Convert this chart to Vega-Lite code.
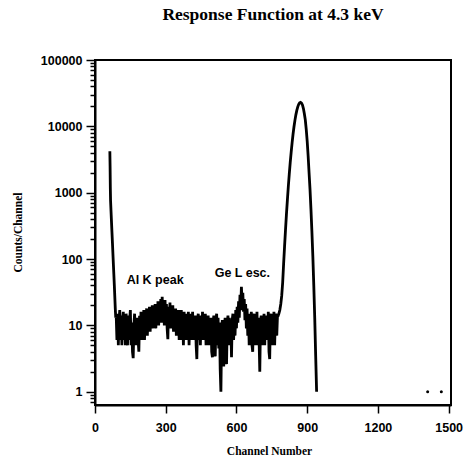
{
  "$schema": "https://vega.github.io/schema/vega-lite/v6.json",
  "width": 356,
  "height": 345,
  "autosize": {"type": "none"},
  "padding": {"left": 95, "top": 60, "right": 15, "bottom": 53},
  "background": "white",
  "title": {
    "text": "Response Function at 4.3 keV",
    "font": "Liberation Serif",
    "fontSize": 17.5,
    "fontWeight": "bold",
    "color": "black",
    "anchor": "middle",
    "offset": 31
  },
  "config": {
    "view": {"stroke": "black", "strokeWidth": 2},
    "axis": {
      "grid": false,
      "domainColor": "black",
      "domainWidth": 2,
      "tickColor": "black",
      "tickWidth": 1.5,
      "labelColor": "black",
      "labelFont": "Liberation Sans",
      "labelFontSize": 12.5,
      "labelFontWeight": "bold",
      "labelFlush": false,
      "labelOverlap": false,
      "labelBound": false,
      "titleColor": "black",
      "titleFont": "Liberation Serif",
      "titleFontSize": 11.5,
      "titleFontWeight": "bold"
    }
  },
  "datasets": {
    "spectrum": [
      {"channel": 63, "counts": 4200}, {"channel": 64, "counts": 2500}, {"channel": 65, "counts": 1200},
      {"channel": 66, "counts": 760}, {"channel": 68, "counts": 520}, {"channel": 70, "counts": 360},
      {"channel": 72, "counts": 250}, {"channel": 74, "counts": 175}, {"channel": 76, "counts": 120},
      {"channel": 78, "counts": 83}, {"channel": 80, "counts": 58}, {"channel": 82, "counts": 40},
      {"channel": 84, "counts": 27}, {"channel": 86, "counts": 18}, {"channel": 88, "counts": 13},
      {"channel": 90, "counts": 14}, {"channel": 93, "counts": 6}, {"channel": 96, "counts": 15},
      {"channel": 99, "counts": 5}, {"channel": 102, "counts": 12}, {"channel": 105, "counts": 17},
      {"channel": 108, "counts": 6}, {"channel": 111, "counts": 14}, {"channel": 114, "counts": 5},
      {"channel": 117, "counts": 11}, {"channel": 120, "counts": 16}, {"channel": 123, "counts": 6},
      {"channel": 126, "counts": 13}, {"channel": 129, "counts": 5}, {"channel": 132, "counts": 15},
      {"channel": 135, "counts": 7}, {"channel": 138, "counts": 5}, {"channel": 141, "counts": 14},
      {"channel": 144, "counts": 6}, {"channel": 147, "counts": 12}, {"channel": 150, "counts": 17},
      {"channel": 153, "counts": 5}, {"channel": 156, "counts": 11}, {"channel": 159, "counts": 4},
      {"channel": 162, "counts": 3.2}, {"channel": 165, "counts": 10}, {"channel": 168, "counts": 15},
      {"channel": 171, "counts": 5}, {"channel": 174, "counts": 12}, {"channel": 177, "counts": 5},
      {"channel": 180, "counts": 13}, {"channel": 183, "counts": 6}, {"channel": 186, "counts": 4},
      {"channel": 189, "counts": 14}, {"channel": 192, "counts": 6}, {"channel": 195, "counts": 16},
      {"channel": 198, "counts": 6}, {"channel": 201, "counts": 13}, {"channel": 204, "counts": 7},
      {"channel": 207, "counts": 17}, {"channel": 210, "counts": 6}, {"channel": 213, "counts": 14},
      {"channel": 216, "counts": 8}, {"channel": 219, "counts": 18}, {"channel": 222, "counts": 7},
      {"channel": 225, "counts": 15}, {"channel": 228, "counts": 8}, {"channel": 231, "counts": 19},
      {"channel": 234, "counts": 8}, {"channel": 237, "counts": 16}, {"channel": 240, "counts": 9},
      {"channel": 243, "counts": 20}, {"channel": 246, "counts": 9}, {"channel": 249, "counts": 17},
      {"channel": 252, "counts": 10}, {"channel": 255, "counts": 21}, {"channel": 258, "counts": 9},
      {"channel": 261, "counts": 18}, {"channel": 264, "counts": 11}, {"channel": 267, "counts": 23},
      {"channel": 270, "counts": 10}, {"channel": 273, "counts": 20}, {"channel": 276, "counts": 11},
      {"channel": 279, "counts": 25}, {"channel": 282, "counts": 11}, {"channel": 285, "counts": 27},
      {"channel": 288, "counts": 12}, {"channel": 291, "counts": 22}, {"channel": 294, "counts": 10},
      {"channel": 297, "counts": 24}, {"channel": 300, "counts": 12}, {"channel": 303, "counts": 21},
      {"channel": 306, "counts": 9}, {"channel": 309, "counts": 6.2}, {"channel": 312, "counts": 19},
      {"channel": 315, "counts": 10}, {"channel": 318, "counts": 22}, {"channel": 321, "counts": 9},
      {"channel": 324, "counts": 18}, {"channel": 327, "counts": 9}, {"channel": 330, "counts": 20},
      {"channel": 333, "counts": 8}, {"channel": 336, "counts": 17}, {"channel": 339, "counts": 8},
      {"channel": 342, "counts": 18}, {"channel": 345, "counts": 7}, {"channel": 348, "counts": 16},
      {"channel": 351, "counts": 8}, {"channel": 354, "counts": 17}, {"channel": 357, "counts": 6},
      {"channel": 360, "counts": 15}, {"channel": 363, "counts": 7}, {"channel": 366, "counts": 17},
      {"channel": 369, "counts": 6}, {"channel": 372, "counts": 14}, {"channel": 375, "counts": 5},
      {"channel": 378, "counts": 16}, {"channel": 381, "counts": 7}, {"channel": 384, "counts": 15},
      {"channel": 387, "counts": 6}, {"channel": 390, "counts": 14}, {"channel": 393, "counts": 7},
      {"channel": 396, "counts": 16}, {"channel": 399, "counts": 5}, {"channel": 402, "counts": 13},
      {"channel": 405, "counts": 6}, {"channel": 408, "counts": 15}, {"channel": 411, "counts": 7},
      {"channel": 414, "counts": 16}, {"channel": 417, "counts": 6}, {"channel": 420, "counts": 13},
      {"channel": 423, "counts": 7}, {"channel": 426, "counts": 14}, {"channel": 429, "counts": 5},
      {"channel": 432, "counts": 3.1}, {"channel": 435, "counts": 12}, {"channel": 438, "counts": 15},
      {"channel": 441, "counts": 6}, {"channel": 444, "counts": 14}, {"channel": 447, "counts": 5},
      {"channel": 450, "counts": 14}, {"channel": 453, "counts": 6}, {"channel": 456, "counts": 16},
      {"channel": 459, "counts": 6}, {"channel": 462, "counts": 13}, {"channel": 465, "counts": 6},
      {"channel": 468, "counts": 15}, {"channel": 471, "counts": 5}, {"channel": 474, "counts": 13},
      {"channel": 477, "counts": 6}, {"channel": 480, "counts": 14}, {"channel": 483, "counts": 5},
      {"channel": 486, "counts": 12}, {"channel": 489, "counts": 5}, {"channel": 492, "counts": 13},
      {"channel": 495, "counts": 4}, {"channel": 498, "counts": 3.3}, {"channel": 501, "counts": 11},
      {"channel": 504, "counts": 14}, {"channel": 507, "counts": 5}, {"channel": 510, "counts": 3.4},
      {"channel": 513, "counts": 12}, {"channel": 516, "counts": 15}, {"channel": 519, "counts": 5},
      {"channel": 522, "counts": 13}, {"channel": 525, "counts": 4.5}, {"channel": 528, "counts": 11},
      {"channel": 531, "counts": 2.2}, {"channel": 534, "counts": 1.0}, {"channel": 537, "counts": 7},
      {"channel": 540, "counts": 12}, {"channel": 543, "counts": 3}, {"channel": 546, "counts": 2.4},
      {"channel": 549, "counts": 10}, {"channel": 552, "counts": 13}, {"channel": 555, "counts": 4},
      {"channel": 558, "counts": 2.6}, {"channel": 561, "counts": 11}, {"channel": 564, "counts": 14},
      {"channel": 567, "counts": 5}, {"channel": 570, "counts": 13}, {"channel": 573, "counts": 5},
      {"channel": 576, "counts": 11}, {"channel": 579, "counts": 3.3}, {"channel": 582, "counts": 12},
      {"channel": 585, "counts": 15}, {"channel": 588, "counts": 6}, {"channel": 591, "counts": 14},
      {"channel": 594, "counts": 7}, {"channel": 597, "counts": 17}, {"channel": 600, "counts": 9},
      {"channel": 603, "counts": 19}, {"channel": 606, "counts": 11}, {"channel": 609, "counts": 23},
      {"channel": 612, "counts": 13}, {"channel": 615, "counts": 29}, {"channel": 618, "counts": 17},
      {"channel": 621, "counts": 38}, {"channel": 624, "counts": 22}, {"channel": 627, "counts": 31},
      {"channel": 630, "counts": 16}, {"channel": 633, "counts": 25}, {"channel": 636, "counts": 12},
      {"channel": 639, "counts": 21}, {"channel": 642, "counts": 9}, {"channel": 645, "counts": 18},
      {"channel": 648, "counts": 7}, {"channel": 651, "counts": 15}, {"channel": 654, "counts": 5},
      {"channel": 657, "counts": 14}, {"channel": 660, "counts": 6}, {"channel": 663, "counts": 16},
      {"channel": 666, "counts": 5}, {"channel": 669, "counts": 4}, {"channel": 672, "counts": 13},
      {"channel": 675, "counts": 15}, {"channel": 678, "counts": 5}, {"channel": 681, "counts": 14},
      {"channel": 684, "counts": 6}, {"channel": 687, "counts": 16}, {"channel": 690, "counts": 5},
      {"channel": 693, "counts": 13}, {"channel": 696, "counts": 6}, {"channel": 699, "counts": 2.0},
      {"channel": 702, "counts": 11}, {"channel": 705, "counts": 14}, {"channel": 708, "counts": 5},
      {"channel": 711, "counts": 14}, {"channel": 714, "counts": 6}, {"channel": 717, "counts": 15},
      {"channel": 720, "counts": 5}, {"channel": 723, "counts": 13}, {"channel": 726, "counts": 6},
      {"channel": 729, "counts": 14}, {"channel": 732, "counts": 6}, {"channel": 735, "counts": 16},
      {"channel": 738, "counts": 4}, {"channel": 741, "counts": 3.1}, {"channel": 744, "counts": 12},
      {"channel": 747, "counts": 15}, {"channel": 750, "counts": 5}, {"channel": 753, "counts": 14},
      {"channel": 756, "counts": 6}, {"channel": 759, "counts": 16}, {"channel": 762, "counts": 5},
      {"channel": 765, "counts": 13}, {"channel": 768, "counts": 15}, {"channel": 771, "counts": 7},
      {"channel": 774, "counts": 14}, {"channel": 777, "counts": 14}, {"channel": 780, "counts": 15},
      {"channel": 784, "counts": 17}, {"channel": 788, "counts": 21}, {"channel": 792, "counts": 28},
      {"channel": 796, "counts": 44}, {"channel": 800, "counts": 84}, {"channel": 804, "counts": 154},
      {"channel": 808, "counts": 272}, {"channel": 812, "counts": 470}, {"channel": 816, "counts": 770},
      {"channel": 820, "counts": 1240}, {"channel": 824, "counts": 1900}, {"channel": 828, "counts": 2830},
      {"channel": 832, "counts": 4050}, {"channel": 836, "counts": 5650}, {"channel": 840, "counts": 7600},
      {"channel": 844, "counts": 9850}, {"channel": 848, "counts": 12300}, {"channel": 852, "counts": 14900},
      {"channel": 856, "counts": 17400}, {"channel": 860, "counts": 19700}, {"channel": 864, "counts": 21500},
      {"channel": 868, "counts": 22600}, {"channel": 872, "counts": 23000}, {"channel": 876, "counts": 22400},
      {"channel": 880, "counts": 21000}, {"channel": 884, "counts": 18500}, {"channel": 888, "counts": 15500},
      {"channel": 892, "counts": 12500}, {"channel": 896, "counts": 9000}, {"channel": 900, "counts": 6000},
      {"channel": 904, "counts": 3600}, {"channel": 908, "counts": 2000}, {"channel": 912, "counts": 1120},
      {"channel": 916, "counts": 560}, {"channel": 920, "counts": 260}, {"channel": 924, "counts": 110},
      {"channel": 928, "counts": 40}, {"channel": 932, "counts": 13}, {"channel": 936, "counts": 3.5},
      {"channel": 940, "counts": 1}
    ],
    "isolated": [
      {"channel": 1411, "counts": 1},
      {"channel": 1469, "counts": 1}
    ],
    "notes": [
      {"channel": 255, "counts": 48, "label": "Al K peak"},
      {"channel": 625, "counts": 62, "label": "Ge L esc."}
    ]
  },
  "layer": [
    {
      "data": {"name": "spectrum"},
      "mark": {"type": "line", "color": "black", "strokeWidth": 2.8, "strokeJoin": "miter", "clip": true},
      "encoding": {
        "x": {
          "field": "channel",
          "type": "quantitative",
          "scale": {"domain": [0, 1510], "nice": false},
          "axis": {
            "title": "Channel Number",
            "values": [0, 300, 600, 900, 1200, 1500],
            "format": "d",
            "tickSize": 8,
            "labelPadding": 8,
            "titleX": 174,
            "titleY": 46,
            "titleBaseline": "middle"
          }
        },
        "y": {
          "field": "counts",
          "type": "quantitative",
          "scale": {"type": "log", "domain": [0.63, 100000], "nice": false},
          "axis": {
            "title": "Counts/Channel",
            "values": [0.7, 0.8, 0.9, 1, 2, 3, 4, 5, 6, 7, 8, 9, 10, 20, 30, 40, 50, 60, 70, 80, 90, 100, 200, 300, 400, 500, 600, 700, 800, 900, 1000, 2000, 3000, 4000, 5000, 6000, 7000, 8000, 9000, 10000, 20000, 30000, 40000, 50000, 60000, 70000, 80000, 90000, 100000],
            "labelExpr": "indexof([1, 10, 100, 1000, 10000, 100000], datum.value) >= 0 ? format(datum.value, 'd') : ''",
            "tickSize": {"condition": {"test": "indexof([1, 10, 100, 1000, 10000, 100000], datum.value) >= 0", "value": 9}, "value": 5},
            "labelPadding": 4,
            "titleX": -77,
            "titleY": 172,
            "titleBaseline": "middle"
          }
        }
      }
    },
    {
      "data": {"name": "isolated"},
      "mark": {"type": "point", "filled": true, "color": "black", "opacity": 1, "size": 9},
      "encoding": {
        "x": {"field": "channel", "type": "quantitative"},
        "y": {"field": "counts", "type": "quantitative"}
      }
    },
    {
      "data": {"name": "notes"},
      "mark": {"type": "text", "font": "Liberation Sans", "fontSize": 12.5, "fontWeight": "bold", "color": "black", "align": "center", "baseline": "middle"},
      "encoding": {
        "x": {"field": "channel", "type": "quantitative"},
        "y": {"field": "counts", "type": "quantitative"},
        "text": {"field": "label"}
      }
    }
  ]
}
